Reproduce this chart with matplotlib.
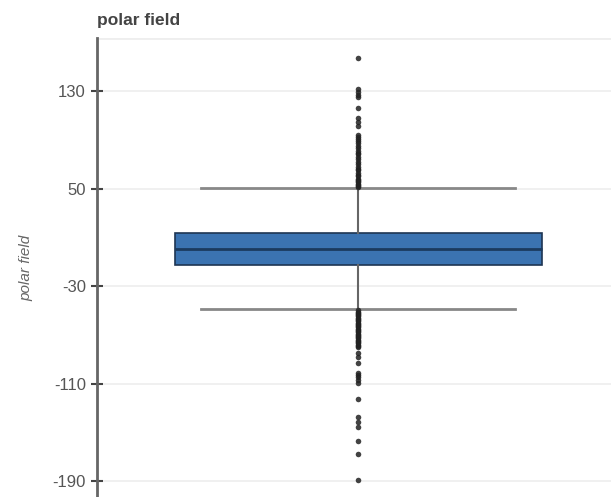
import numpy as np
import matplotlib.pyplot as plt

plt.rcParams['font.family'] = ['Liberation Sans', 'DejaVu Sans']
plt.rcParams['axes.unicode_minus'] = False

# box summary for the polar field column
q1, med, q3 = -12.8, 0.4, 13.5
whis_lo, whis_hi = -48.9, 50.4

upper_fliers = [157, 131.6, 129, 126.7, 125, 116, 108, 104.6, 101,
                94, 92, 91, 89, 87, 85, 83, 81, 79, 78, 76, 74, 72, 70, 68,
                66, 65, 63, 61, 60, 58, 57, 56, 55, 54, 53, 52, 51]
lower_fliers = [-50, -51, -52, -53, -54, -55, -56, -57, -58, -59, -60,
                -61, -62, -63, -64, -65, -66, -67, -68, -69, -70, -71,
                -72, -73, -74, -75, -76, -77, -78, -79, -80,
                -85, -88, -93, -101, -103, -105, -107, -109.6,
                -122.7, -137.5, -141.6, -145.7, -157, -168, -189]

yticks = [130, 50, -30, -110, -190]

stats = [dict(med=med, q1=q1, q3=q3, whislo=whis_lo, whishi=whis_hi,
              fliers=np.array(upper_fliers + lower_fliers), label='')]

fig = plt.figure(figsize=(6.11, 4.97), dpi=100)
ax = fig.add_axes([97/611, 0, 514/611, 1 - 38/497])

ax.bxp(stats, positions=[0], widths=1.428, capwidths=1.218,
       patch_artist=True,
       boxprops=dict(facecolor='#3b73b1', edgecolor='#1e3553', linewidth=1.2),
       medianprops=dict(color='#1b3a5e', linewidth=2),
       whiskerprops=dict(color='#666666', linewidth=1.5),
       capprops=dict(color='#888888', linewidth=2),
       flierprops=dict(marker='o', markersize=4, markerfacecolor='#222222',
                       markeredgecolor='none', alpha=0.85))

ax.set_xlim(-1.0156, 0.9844)
ax.set_ylim(-203.1, 173.5)
ax.set_xticks([])
ax.set_yticks(yticks)
ax.tick_params(axis='y', direction='inout', length=8, width=1.5,
               color='#444444', labelcolor='#555555', labelsize=12, pad=4)

ax.grid(axis='y', color='#eeeeee', linewidth=1.2)
ax.axhline(173.5, color='#eeeeee', linewidth=2)
ax.set_axisbelow(True)

for s in ['top', 'right', 'bottom']:
    ax.spines[s].set_visible(False)
ax.spines['left'].set_color('#666666')
ax.spines['left'].set_linewidth(2)

ax.set_ylabel('polar field', fontsize=11, style='italic', color='#666666',
              labelpad=14)
fig.text(97/611, 1 - 20/497, 'polar field', fontsize=12.5, fontweight='bold',
         color='#444444', va='center', ha='left')

fig.savefig('out.png', dpi=100)
